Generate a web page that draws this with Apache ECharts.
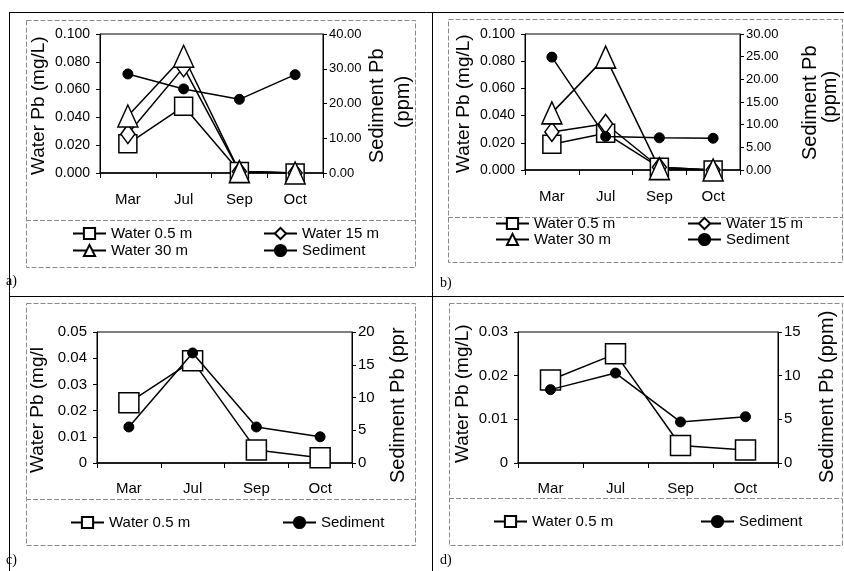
<!DOCTYPE html>
<html><head><meta charset="utf-8">
<script src="https://cdn.jsdelivr.net/npm/echarts@6/dist/echarts.min.js"></script>
<style>html,body{margin:0;padding:0;background:#fff}#c{width:844px;height:571px}</style>
</head><body><div id="c"></div>
<script>
// ---- data ----
var months = ['Mar', 'Jul', 'Sep', 'Oct'];
var seriesNames = ['Water 0.5 m', 'Water 15 m', 'Water 30 m', 'Sediment'];
// panel a
var aWater05 = [0.021, 0.048, 0.001, 0.000];
var aWater15 = [0.028, 0.076, 0.001, 0.000];
var aWater30 = [0.041, 0.084, 0.001, 0.000];
var aSediment = [28.5, 24.2, 21.2, 28.3];
// panel b
var bWater05 = [0.019, 0.027, 0.002, 0.000];
var bWater15 = [0.028, 0.034, 0.002, 0.000];
var bWater30 = [0.042, 0.083, 0.001, 0.000];
var bSediment = [24.9, 7.4, 7.1, 7.0];
// panel c
var cWater05 = [0.023, 0.039, 0.005, 0.002];
var cSediment = [5.5, 16.8, 5.5, 4.0];
// panel d
var dWater05 = [0.019, 0.025, 0.004, 0.003];
var dSediment = [8.4, 10.3, 4.7, 5.3];
// axis ticks
var aLeftTicks = ['0.000', '0.020', '0.040', '0.060', '0.080', '0.100'];
var aRightTicks = ['0.00', '10.00', '20.00', '30.00', '40.00'];
var bLeftTicks = ['0.000', '0.020', '0.040', '0.060', '0.080', '0.100'];
var bRightTicks = ['0.00', '5.00', '10.00', '15.00', '20.00', '25.00', '30.00'];
var cLeftTicks = ['0', '0.01', '0.02', '0.03', '0.04', '0.05'];
var cRightTicks = ['0', '5', '10', '15', '20'];
var dLeftTicks = ['0', '0.01', '0.02', '0.03'];
var dRightTicks = ['0', '5', '10', '15'];

// ---- layout ----
var SANS = "'Liberation Sans',Arial,sans-serif";
var panels = [
  {grid:{left:100, top:34, width:223, height:139}, left:aLeftTicks, right:aRightTicks,
   water:[aWater05, aWater15, aWater30], sed:aSediment, lf:14, rf:13, xm:19},
  {grid:{left:525, top:34, width:215, height:136}, left:bLeftTicks, right:bRightTicks,
   water:[bWater05, bWater15, bWater30], sed:bSediment, lf:14, rf:13, xm:19},
  {grid:{left:97, top:332, width:255, height:131}, left:cLeftTicks, right:cRightTicks,
   water:[cWater05], sed:cSediment, big:true, lf:15, rf:15, xm:18},
  {grid:{left:518, top:332, width:260, height:131}, left:dLeftTicks, right:dRightTicks,
   water:[dWater05], sed:dSediment, big:true, lf:15, rf:15, xm:18}
];
var symbols = [
  {symbol:'rect', size:18},
  {symbol:'diamond', size:[14,19]},
  {symbol:'triangle', size:[20,22]}
];

var grids = [], xAxes = [], yAxes = [], series = [];
panels.forEach(function (p, i) {
  grids.push(Object.assign({show:true, borderColor:'#000', borderWidth:1, backgroundColor:'transparent'}, p.grid));
  xAxes.push({type:'category', gridIndex:i, data:months, boundaryGap:true,
    axisLine:{lineStyle:{color:'#000', width:1.5}},
    axisTick:{show:true, length:5, lineStyle:{color:'#000'}},
    axisLabel:{color:'#000', fontSize:15, fontFamily:SANS, margin:p.xm}});
  var lmax = parseFloat(p.left[p.left.length-1]);
  var rmax = parseFloat(p.right[p.right.length-1]);
  yAxes.push({type:'value', gridIndex:i, position:'left', min:0, max:lmax,
    interval:lmax/(p.left.length-1),
    axisLine:{show:true, lineStyle:{color:'#000', width:1}},
    axisTick:{show:true, length:4, lineStyle:{color:'#000'}},
    splitLine:{show:false},
    axisLabel:{color:'#000', fontSize:p.lf, fontFamily:SANS, margin:10,
      formatter:(function(t){return function(v, idx){return t[idx];};})(p.left)}});
  yAxes.push({type:'value', gridIndex:i, position:'right', min:0, max:rmax,
    interval:rmax/(p.right.length-1),
    axisLine:{show:true, lineStyle:{color:'#000', width:1}},
    axisTick:{show:true, length:4, lineStyle:{color:'#000'}},
    splitLine:{show:false},
    axisLabel:{color:'#000', fontSize:p.rf, fontFamily:SANS, margin:6,
      formatter:(function(t){return function(v, idx){return t[idx];};})(p.right)}});
  p.water.forEach(function (d, k) {
    var s = symbols[k];
    series.push({type:'line', name:seriesNames[k], xAxisIndex:i, yAxisIndex:2*i, data:d,
      symbol:s.symbol, symbolSize:p.big && k===0 ? 20 : s.size, showAllSymbol:true,
      lineStyle:{color:'#000', width:1.5},
      itemStyle:{color:'#fff', borderColor:'#000', borderWidth:1.5},
      emphasis:{disabled:true}, animation:false, z:2});
  });
  series.push({type:'line', name:'Sediment', xAxisIndex:i, yAxisIndex:2*i+1, data:p.sed,
    symbol:'circle', symbolSize:10,
    lineStyle:{color:'#000', width:1.5},
    itemStyle:{color:'#000', borderColor:'#000', borderWidth:1},
    emphasis:{disabled:true}, animation:false, z:3});
});

function leg(name, left, top) {
  return {data:[name], left:left, top:top, padding:0, itemWidth:33, itemHeight:14, itemGap:0,
    selectedMode:false, textStyle:{color:'#000', fontSize:15, fontFamily:SANS, padding:[0,0,0,0]}};
}
var legends = [
  leg('Water 0.5 m', 72, 226), leg('Water 15 m', 263, 226),
  leg('Water 30 m', 72, 243), leg('Sediment', 263, 243),
  leg('Water 0.5 m', 495, 216), leg('Water 15 m', 687, 216),
  leg('Water 30 m', 495, 232), leg('Sediment', 687, 232),
  leg('Water 0.5 m', 70, 515), leg('Sediment', 282, 515),
  leg('Water 0.5 m', 493, 514), leg('Sediment', 700, 514)
];

function vtext(txt, x, y, align, size) {
  return {type:'text', x:x, y:y, rotation:Math.PI/2, silent:true,
    style:{text:txt, fill:'#000', font:size+'px ' + SANS, align:align, verticalAlign:'middle'}};
}
function line(x1, y1, x2, y2, dashed) {
  return {type:'line', silent:true, shape:{x1:x1, y1:y1, x2:x2, y2:y2},
    style:dashed ? {stroke:'#8a8a8a', lineWidth:1, lineDash:[5,2]} : {stroke:'#000', lineWidth:1}};
}
function rect(x, y, w, h) {
  return {type:'rect', silent:true, shape:{x:x, y:y, width:w, height:h},
    style:{fill:'none', stroke:'#8a8a8a', lineWidth:1, lineDash:[5,2]}};
}
function label(t, x, y) {
  return {type:'text', x:x, y:y, silent:true,
    style:{text:t, fill:'#000', font:"14px 'Liberation Serif','Times New Roman',serif", verticalAlign:'middle'}};
}
var graphics = [
  line(9, 12.5, 844, 12.5), line(9.5, 12, 9.5, 571), line(432.5, 12, 432.5, 571), line(9, 296.5, 844, 296.5),
  rect(26.5, 20.5, 389, 247), line(26, 220.5, 415, 220.5, true),
  rect(448.5, 19.5, 394, 243), line(448, 217.5, 842, 217.5, true),
  rect(26.5, 303.5, 389, 242), line(26, 499.5, 415, 499.5, true),
  rect(449.5, 303.5, 393, 242), line(449, 498.5, 842, 498.5, true),
  label('a)', 6, 281), label('b)', 440, 283), label('c)', 6, 560), label('d)', 440, 560),
  vtext('Water Pb (mg/L)', 39, 175, 'left', 19),
  vtext('Sediment Pb', 377, 163, 'left', 20),
  vtext('(ppm)', 403, 102, 'center', 20),
  vtext('Water Pb (mg/L)', 464, 173, 'left', 19),
  vtext('Sediment Pb', 810, 160, 'left', 20),
  vtext('(ppm)', 830, 97, 'center', 20),
  vtext('Water Pb (mg/l', 38, 473, 'left', 19),
  vtext('Sediment Pb (ppr', 398, 483, 'left', 20),
  vtext('Water Pb (mg/L)', 463, 463, 'left', 19),
  vtext('Sediment Pb (ppm)', 827, 483, 'left', 20)
];

var chart = echarts.init(document.getElementById('c'), null, {renderer:'canvas'});
chart.setOption({
  animation:false,
  backgroundColor:'#fff',
  grid:grids, xAxis:xAxes, yAxis:yAxes, series:series,
  legend:legends, graphic:graphics, tooltip:{show:false}
});
</script></body></html>
